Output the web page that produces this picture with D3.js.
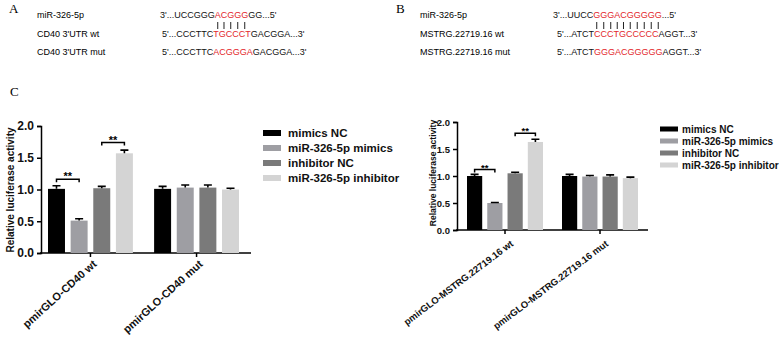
<!DOCTYPE html>
<html>
<head>
<meta charset="utf-8">
<script src="https://cdn.jsdelivr.net/npm/d3@7"></script>
<style>
  body { margin: 0; background: #fff; }
  svg { display: block; }
  text { font-family: Arial, "Liberation Sans", sans-serif; }
</style>
</head>
<body>
<div id="chart"></div>
<script>
// ---- data ----
const series = ["mimics NC", "miR-326-5p mimics", "inhibitor NC", "miR-326-5p inhibitor"];
const colors = ["#000000", "#9e9ea3", "#7a7a7a", "#d4d4d4"];
const yTicks = [0, 0.5, 1.0, 1.5, 2.0];

// panel C left : CD40
const groupsL = ["pmirGLO-CD40 wt", "pmirGLO-CD40 mut"];
const valuesL = [[1.01, 0.51, 1.02, 1.57], [1.01, 1.03, 1.03, 1.00]];
const errorsL = [[0.05, 0.03, 0.03, 0.05], [0.04, 0.04, 0.04, 0.02]];
const sigL = [{ g: 0, a: 0, b: 1, y: 1.16 }, { g: 0, a: 2, b: 3, y: 1.74 }];

// panel C right : MSTRG.22719.16
const groupsR = ["pmirGLO-MSTRG.22719.16 wt", "pmirGLO-MSTRG.22719.16 mut"];
const valuesR = [[1.00, 0.50, 1.05, 1.63], [1.00, 0.99, 0.99, 0.96]];
const errorsR = [[0.03, 0.01, 0.02, 0.05], [0.03, 0.02, 0.03, 0.02]];
const sigR = [{ g: 0, a: 0, b: 1, y: 1.12 }, { g: 0, a: 2, b: 3, y: 1.79 }];

// sequences (black / red / black)
const seqA = [
    { label: "miR-326-5p", parts: ["3'...UCCGGG", "ACGGG", "GG...5'"] },
    { label: "CD40 3'UTR wt", parts: ["5'...CCCTTC", "TGCCCT", "GACGGA...3'"] },
    { label: "CD40 3'UTR mut", parts: ["5'...CCCTTC", "ACGGGA", "GACGGA...3'"] }
];
const seqB = [
    { label: "miR-326-5p", parts: ["3'...UUCC", "GGGACGGGGG", "...5'"] },
    { label: "MSTRG.22719.16 wt", parts: ["5'...ATCT", "CCCTGCCCCC", "AGGT...3'"] },
    { label: "MSTRG.22719.16 mut", parts: ["5'...ATCT", "GGGACGGGGG", "AGGT...3'"] }
];

const W = 783, H = 339;
const svg = d3.select("#chart").append("svg").attr("width", W).attr("height", H);

// panel letters
const letters = [{ t: "A", x: 9, y: 13 }, { t: "B", x: 396, y: 13 }, { t: "C", x: 10, y: 96 }];
svg.selectAll(".panelLetter").data(letters).enter().append("text")
    .attr("class", "panelLetter")
    .attr("x", d => d.x).attr("y", d => d.y)
    .text(d => d.t)
    .style("font-family", "'Liberation Serif', 'DejaVu Serif', serif")
    .style("font-size", "13px");

//sequence block
function drawSeq(rows, labelX, seqX, rowY) {
    const g = svg.append("g");
    rows.forEach((r, i) => {
        g.append("text").attr("x", labelX).attr("y", rowY[i])
            .style("font-size", "9px").text(r.label);
        const t = g.append("text").attr("x", seqX[i]).attr("y", rowY[i])
            .style("font-size", "9px");
        r.parts.forEach((p, j) => {
            t.append("tspan").text(p).attr("fill", j === 1 ? "#e3262b" : "#111");
        });
        r.node = t.node();
    });
    // pairing lines under red part of the miRNA
    const node = rows[0].node;
    const start = rows[0].parts[0].length;
    for (let k = 0; k < rows[0].parts[1].length; k++) {
        const ext = node.getExtentOfChar(start + k);
        const cx = ext.x + ext.width / 2;
        g.append("line")
            .attr("x1", cx).attr("x2", cx)
            .attr("y1", rowY[0] + 4).attr("y2", rowY[1] - 8)
            .attr("stroke", "#222").attr("stroke-width", 1);
    }
}
drawSeq(seqA, 37, [160, 162, 162], [18, 37, 55]);
drawSeq(seqB, 420, [553, 557, 557], [18, 37, 55]);

// bar chart
function drawBars(cfg) {
    const g = svg.append("g");
    const y = d3.scaleLinear().domain([0, 2]).range([cfg.y0, cfg.y1]);
    const x0 = d3.scaleBand().domain(cfg.groups).range(cfg.xr).paddingInner(cfg.gpad);
    const x1 = d3.scaleBand().domain(series).range([0, x0.bandwidth()]).paddingInner(0.25);

    // y axis
    const ya = g.append("g").attr("transform", `translate(${cfg.ax},0)`)
        .call(d3.axisLeft(y).tickValues(yTicks).tickFormat(d3.format(".1f")).tickSize(4).tickPadding(3));
    ya.select(".domain").attr("stroke-width", 1.5);
    ya.selectAll(".tick line").attr("stroke-width", 1.5);
    ya.selectAll("text").style("font-size", cfg.tickFont).style("font-weight", "bold")
        .attr("fill", "#111");

    // x axis
    const xa = g.append("g").attr("transform", `translate(0,${cfg.y0})`)
        .call(d3.axisBottom(x0).tickSize(4).tickSizeOuter(0));
    xa.select(".domain").remove();
    xa.selectAll(".tick line").attr("stroke-width", 1.5);
    xa.selectAll("text").remove();
    g.append("line").attr("x1", cfg.ax - 1).attr("x2", cfg.xend)
        .attr("y1", cfg.y0).attr("y2", cfg.y0)
        .attr("stroke", "#000").attr("stroke-width", 1.5);

    // x labels rotated
    g.selectAll(".xlab").data(cfg.groups).enter().append("text")
        .attr("class", "xlab")
        .attr("transform", d => {
            const px = x0(d) + x0.bandwidth() / 2 + cfg.labDx;
            const py = cfg.y0 + cfg.labDy;
            return `translate(${px},${py}) rotate(${cfg.rot})`;
        })
        .attr("text-anchor", "end")
        .style("font-size", cfg.xFont).style("font-weight", "bold")
        .attr("fill", "#111")
        .text(d => d);

    // bars
    const flat = [];
    cfg.groups.forEach((gname, gi) => {
        series.forEach((s, si) => {
            flat.push({ g: gname, s: s, si: si, v: cfg.values[gi][si], e: cfg.errors[gi][si] });
        });
    });
    const bx = d => x0(d.g) + x1(d.s);
    g.selectAll(".bar").data(flat).enter().append("rect")
        .attr("class", "bar")
        .attr("x", bx)
        .attr("y", d => y(d.v))
        .attr("width", x1.bandwidth())
        .attr("height", d => y(0) - y(d.v))
        .attr("fill", d => colors[d.si]);

    // error bars (upper only)
    const cap = 4;
    g.selectAll(".err").data(flat).enter().append("path")
        .attr("class", "err")
        .attr("d", d => {
            const cx = bx(d) + x1.bandwidth() / 2;
            return `M${cx},${y(d.v)}V${y(d.v + d.e)}M${cx - cap},${y(d.v + d.e)}H${cx + cap}`;
        })
        .attr("stroke", "#000").attr("stroke-width", 1.6).attr("fill", "none");

    // significance brackets
    cfg.sig.forEach(s => {
        const gname = cfg.groups[s.g];
        const xa_ = x0(gname) + x1(series[s.a]) + x1.bandwidth() / 2;
        const xb_ = x0(gname) + x1(series[s.b]) + x1.bandwidth() / 2;
        const yy = y(s.y);
        g.append("path")
            .attr("d", `M${xa_},${yy + 3}V${yy}H${xb_}V${yy + 3}`)
            .attr("stroke", "#000").attr("stroke-width", 1.5).attr("fill", "none");
        g.append("text").attr("x", (xa_ + xb_) / 2).attr("y", yy + 1)
            .attr("text-anchor", "middle")
            .style("font-size", cfg.starFont).style("font-weight", "bold")
            .text("**");
    });

    // y label
    g.append("text")
        .attr("transform", `translate(${cfg.ylx},${cfg.yly}) rotate(-90)`)
        .attr("text-anchor", "middle")
        .style("font-size", cfg.yFont).style("font-weight", "bold")
        .attr("fill", "#111")
        .text("Relative luciferase activity");

    // legend
    const lg = g.append("g");
    series.forEach((s, i) => {
        const ly = cfg.legY + i * cfg.legStep;
        lg.append("rect").attr("x", cfg.legX).attr("y", ly - cfg.swH / 2)
            .attr("width", 18).attr("height", cfg.swH).attr("fill", colors[i]);
        lg.append("text").attr("x", cfg.legX + cfg.legTx).attr("y", ly)
            .attr("dy", "0.35em")
            .style("font-size", cfg.legFont).style("font-weight", "bold")
            .attr("fill", "#111")
            .text(s);
    });
}

drawBars({
    groups: groupsL, values: valuesL, errors: errorsL, sig: sigL,
    y0: 253, y1: 126, ax: 41, xend: 251, xr: [48, 239], gpad: 0.2,
    rot: -42, labDx: 7, labDy: 12,
    tickFont: "12px", xFont: "11px", yFont: "10px", starFont: "11px",
    ylx: 14, yly: 190,
    legX: 263, legY: 133, legStep: 15, swH: 6, legTx: 25, legFont: "11.5px"
});

drawBars({
    groups: groupsR, values: valuesR, errors: errorsR, sig: sigR,
    y0: 230, y1: 122, ax: 457, xend: 648, xr: [467, 638], gpad: 0.2,
    rot: -37, labDx: 9, labDy: 15,
    tickFont: "9.5px", xFont: "9.5px", yFont: "8.5px", starFont: "9.5px",
    ylx: 436, yly: 173,
    legX: 660, legY: 129, legStep: 12, swH: 5, legTx: 22, legFont: "10px"
});
</script>
</body>
</html>
